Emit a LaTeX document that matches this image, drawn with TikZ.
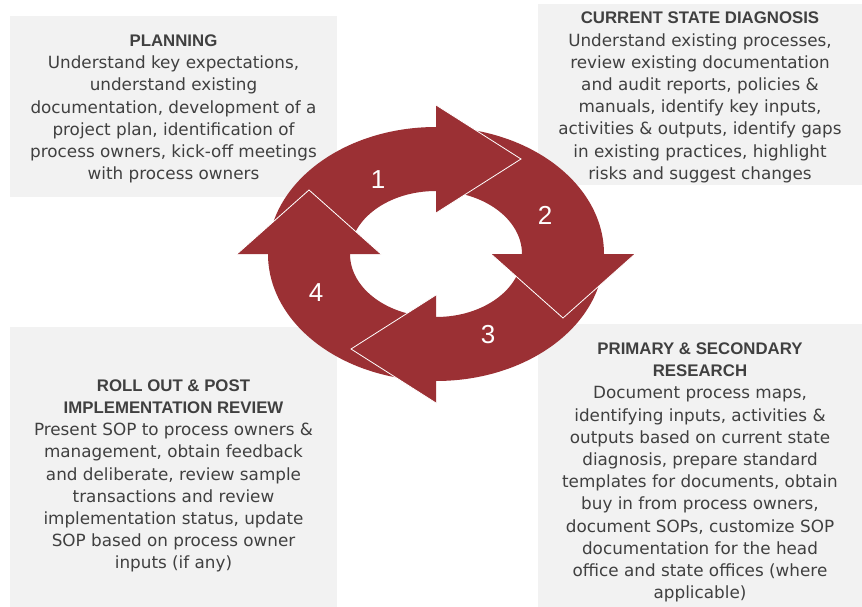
\documentclass[tikz,border=0pt]{standalone}
\usepackage{fontspec}
\setmainfont{DejaVu Sans}
\newfontfamily\headfont{Liberation Sans}
\usepackage{xcolor}
\usetikzlibrary{positioning, calc}
\definecolor{ringred}{RGB}{155,48,52}
\definecolor{boxgray}{RGB}{242,242,242}
\definecolor{textgray}{RGB}{64,64,64}
\newcommand{\boxhead}[1]{{\headfont\bfseries\fontsize{16.8}{22.2}\selectfont #1}}

\begin{document}
\begin{tikzpicture}[x=1pt, y=-1pt,
  infotext/.style={text=textgray, align=center, inner sep=0pt,
    font=\fontsize{16.8}{22.2}\selectfont},
  steplabel/.style={text=white, inner sep=0pt, font=\headfont\fontsize{26}{30}\selectfont},
  headedge/.style={draw=white, line width=0.8pt}]
  \useasboundingbox (0,0) rectangle (862,607);

  \fill[boxgray] (10,16) rectangle (337,197);
  \fill[boxgray] (538,4) rectangle (862,185);
  \fill[boxgray] (10,327) rectangle (337,607);
  \fill[boxgray] (538,324) rectangle (862,607);

  \node[infotext] (planning) at (173.5,109)
    {\boxhead{PLANNING}\\Understand key expectations,\\understand existing\\documentation, development of a\\project plan, identification of\\process owners, kick-off meetings\\with process owners};
  \node[infotext] (diagnosis) at (700,97.5)
    {\boxhead{CURRENT STATE DIAGNOSIS}\\Understand existing processes,\\review existing documentation\\and audit reports, policies \&\\manuals, identify key inputs,\\activities \& outputs, identify gaps\\in existing practices, highlight\\risks and suggest changes};
  \node[infotext] (rollout) at (173.5,476)
    {\boxhead{ROLL OUT \& POST}\\\boxhead{IMPLEMENTATION REVIEW}\\Present SOP to process owners \&\\management, obtain feedback\\and deliberate, review sample\\transactions and review\\implementation status, update\\SOP based on process owner\\inputs (if any)};
  \node[infotext] (research) at (700,472.5)
    {\boxhead{PRIMARY \& SECONDARY}\\\boxhead{RESEARCH}\\Document process maps,\\identifying inputs, activities \&\\outputs based on current state\\diagnosis, prepare standard\\templates for documents, obtain\\buy in from process owners,\\document SOPs, customize SOP\\documentation for the head\\office and state offices (where\\applicable)};

  \coordinate (c) at (436,254);
  \fill[ringred, even odd rule] (c) ellipse [x radius=168pt, y radius=127pt]
    (c) ellipse [x radius=86pt, y radius=63pt];

  \foreach \ax/\ay/\bx/\by/\tx/\ty in {436/105/436/213/521/159, 491/254/635/254/563/318,
      436/403/436/295/351/349, 381/254/237/254/309/190}{
    \fill[ringred] (\ax,\ay) -- (\tx,\ty) -- (\bx,\by) -- cycle;
    \draw[headedge] (\ax,\ay) -- (\tx,\ty) -- (\bx,\by);
  }

  \node[steplabel] (n1) at (378,180) {1};
  \node[steplabel] (n2) at (545,215) {2};
  \node[steplabel] (n3) at (488,335) {3};
  \node[steplabel] (n4) at (316,293) {4};
\end{tikzpicture}
\end{document}
